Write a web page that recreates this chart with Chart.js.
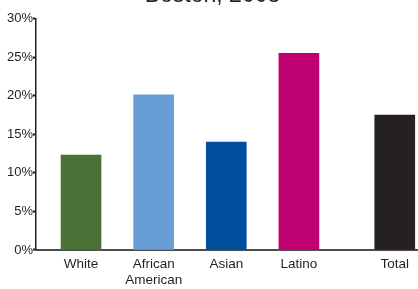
<!DOCTYPE html>
<html>
<head>
<meta charset="utf-8">
<script src="https://cdn.jsdelivr.net/npm/chart.js@4"></script>
<style>
  body { margin: 0; background: #fff; }
  #wrap { width: 418px; height: 289px; position: relative; }
</style>
</head>
<body>
<div id="wrap"><canvas id="chart"></canvas></div>
<script>
const groups = [['White'], ['African', 'American'], ['Asian'], ['Latino'], ['Total']];
const rates = [12.3, 20.1, 14.0, 25.5, 17.5];
const barColors = ['#4a7236', '#679ed5', '#00509f', '#bf0070', '#252122'];
const yTicks = [0, 5, 10, 15, 20, 25, 30];

// slot on the x axis for each group, Total sits a bit apart
const slots = [1, 2, 3, 4, 5.32];

const ink = '#231f20';

const config = {
  type: 'bar',
  data: {
    datasets: [{
      data: rates.map((v, i) => ({ x: slots[i], y: v })),
      backgroundColor: barColors,
      borderWidth: 0,
      barThickness: 40
    }]
  },
  options: {
    responsive: true,
    maintainAspectRatio: false,
    animation: false,
    layout: { padding: { left: 7, right: 0, top: 0, bottom: -6 } },
    plugins: {
      legend: { display: false },
      tooltip: { enabled: false },
      title: {
        display: true,
        text: 'Boston, 2008',
        color: ink,
        font: { family: 'Liberation Sans, Arial, sans-serif', size: 23, weight: 'normal' },
        padding: { top: -18, bottom: 9 }
      }
    },
    scales: {
      x: {
        type: 'linear',
        offset: false,
        min: 0.38,
        max: 5.64,
        afterBuildTicks: scale => { scale.ticks = slots.map(v => ({ value: v })); },
        grid: { display: true, drawOnChartArea: false, drawTicks: false, offset: false },
        border: { display: true, color: '#4d4d4d', width: 2 },
        ticks: {
          color: ink,
          padding: 7,
          maxRotation: 0,
          autoSkip: false,
          font: { family: 'Liberation Sans, Arial, sans-serif', size: 13.5, lineHeight: 1.15 },
          callback: (v, i) => groups[i]
        }
      },
      y: {
        min: 0,
        max: 30,
        afterBuildTicks: scale => { scale.ticks = yTicks.map(v => ({ value: v })); },
        grid: { drawOnChartArea: false, tickLength: 3, tickWidth: 2, color: ink },
        border: { display: true, color: ink, width: 1.5 },
        ticks: {
          color: ink,
          padding: 0,
          font: { family: 'Liberation Sans, Arial, sans-serif', size: 13 },
          callback: v => v + '%'
        }
      }
    }
  }
};

const chart = new Chart(document.getElementById('chart'), config);
</script>
</body>
</html>
